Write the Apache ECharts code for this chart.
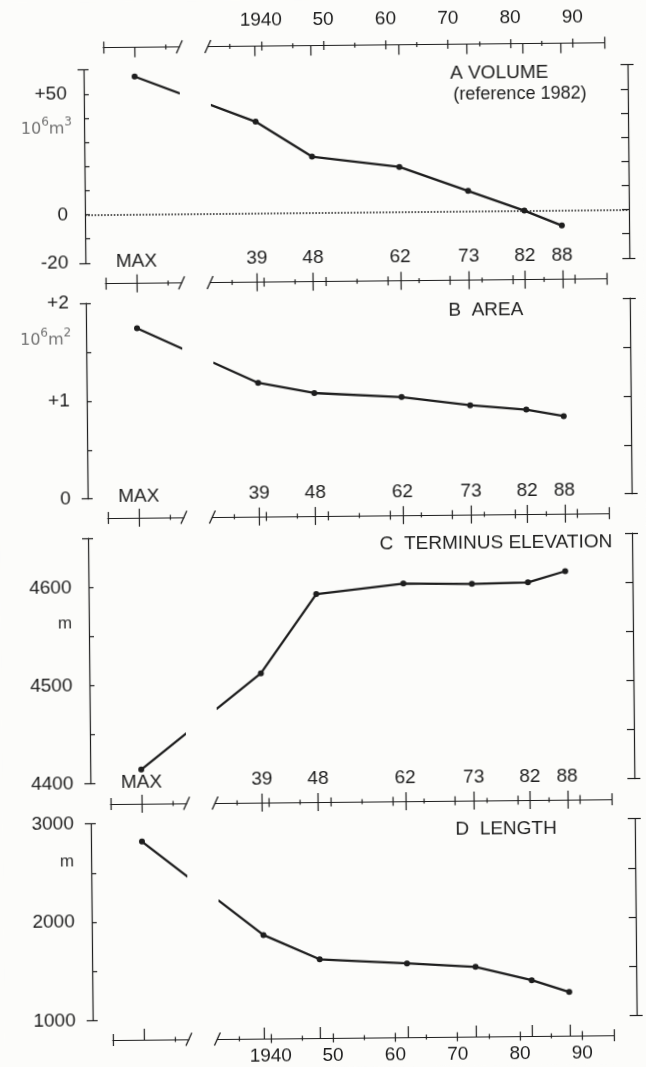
<!DOCTYPE html>
<html>
<head>
<meta charset="utf-8">
<script src="https://cdn.jsdelivr.net/npm/echarts@6/dist/echarts.min.js"></script>
<style>
html,body{margin:0;padding:0;background:#fcfcfa;overflow:hidden;}
#c{width:646px;height:1067px;transform:rotate(-0.55deg);transform-origin:323px 533px;}
</style>
</head>
<body>
<div id="c"></div>
<script>
// ---------------- data ----------------
const years = [1939, 1948, 1962, 1973, 1982, 1988];
const volume = [37.9, 23.2, 18.6, 8.4, 0.0, -6.3];        // 10^6 m3, reference 1982
const area = [1.17, 1.06, 1.01, 0.92, 0.87, 0.80];        // 10^6 m2
const elevation = [4511, 4591, 4601, 4600, 4601, 4612];   // m
const lengthM = [1853, 1600, 1550, 1508, 1367, 1244];     // m
const maxValues = [57.1, 1.74, 4414, 2815];               // values at "MAX"
const maxLabel = 'MAX';
const decadeTicks = [1940, 1950, 1960, 1970, 1980, 1990];
const halfDecadeTicks = [1935, 1945, 1955, 1965, 1975, 1985];
const panelTitles = ['A VOLUME', 'B  AREA', 'C  TERMINUS ELEVATION', 'D  LENGTH'];
const subTitle = '(reference 1982)';
const yRanges = [[-20, 60, 10], [0, 2, 0.5], [4400, 4650, 50], [1000, 3000, 500]];
const yTickLabels = [[-20, 0, 50], [0, 1, 2], [4400, 4500, 4600], [1000, 2000, 3000]];
const unitLabels = ['{a|10}{s|6}{a|m}{s|3}', '{a|10}{s|6}{a|m}{s|2}', '{m|m}', '{m|m}'];
const seriesValues = [volume, area, elevation, lengthM];

// ---------------- layout (pixels) ----------------
const INK = '#1e1e1e';
const FONT = '"Liberation Sans", Arial, Helvetica, sans-serif';
const UNIT_FONT = '"DejaVu Sans", "Liberation Sans", sans-serif';
const LS = {color: INK, width: 1.2};
const X1940 = 265.8, PX_PER_YR = 6.23;           // broken time axis scale
const yrAt = px => 1940 + (px - X1940) / PX_PER_YR;
const MAX_AT = yrAt(139);                        // where the MAX column sits
const SEG_L = [108, 184], SEG_R = [212.5, 609.2];
const GAP = [yrAt(184), yrAt(215.4)];
const PLOT_L = 88, PLOT_R = 632;
const ROWS_Y = [45.5, 281.6, 515.9, 802, 1038];
const panelLayout = [
  {top: 67.7, bottom: 260.9, title: [454.5, 74.5], sub: [457.6, 96.4], unit: [76, 124], unitAlign: 'right'},
  {top: 301, bottom: 496.7, title: [450.4, 311.5], unit: [73.2, 335], unitAlign: 'right'},
  {top: 536.2, bottom: 781.6, title: [379.6, 545.1], unit: [64, 621.3], unitAlign: 'center'},
  {top: 821.6, bottom: 1018.3, title: [452.6, 831.2], unit: [63.9, 859.6], unitAlign: 'center'}
];

const grids = [], xAxes = [], yAxes = [], series = [], graphics = [];
const addGrid = g => { grids.push(Object.assign({outerBoundsMode: 'none', containLabel: false}, g)); return grids.length - 1; };
const fmtSigned = v => (v > 0 ? '+' + v : String(v));
const fmtPlain = v => String(v);
const fmtDecade = v => (v === 1940 ? '1940' : String(v).slice(2));
const fmtObs = v => String(v).slice(2);
const labelStyle = {color: INK, fontSize: 19, fontFamily: FONT};

function tickLayer(gridIndex, min, max, position, values, length, inside) {
  return {type: 'value', gridIndex, min, max, position, silent: true,
    axisLine: {show: false, onZero: false},
    axisTick: {show: true, customValues: values, length, inside, lineStyle: LS},
    axisLabel: {show: false}, splitLine: {show: false}, splitArea: {show: false}};
}

// ---------------- panels ----------------
panelLayout.forEach((L, k) => {
  const gi = addGrid({left: PLOT_L, width: PLOT_R - PLOT_L, top: L.top, height: L.bottom - L.top});
  const xi = xAxes.length;
  xAxes.push({type: 'value', gridIndex: gi, min: yrAt(PLOT_L), max: yrAt(PLOT_R), show: false,
    axisLine: {show: false, onZero: false}, splitLine: {show: false}});
  const [mn, mx, iv] = yRanges[k];
  const yb = {type: 'value', gridIndex: gi, min: mn, max: mx, splitLine: {show: false}, splitArea: {show: false}, silent: true};
  const yi = yAxes.length;
  yAxes.push(Object.assign({}, yb, {position: 'left', interval: iv,
    axisLine: {show: true, onZero: false, lineStyle: LS},
    axisTick: {show: true, inside: true, length: 5, lineStyle: LS},
    axisLabel: Object.assign({show: true, customValues: yTickLabels[k], formatter: k < 2 ? fmtSigned : fmtPlain, margin: 17}, labelStyle)}));
  yAxes.push(Object.assign({}, yb, {position: 'left',
    axisLine: {show: false, onZero: false},
    axisTick: {show: true, customValues: [mn, mx], inside: false, length: 6, lineStyle: LS},
    axisLabel: {show: false}}));
  yAxes.push(Object.assign({}, yb, {position: 'right', interval: iv,
    axisLine: {show: true, onZero: false, lineStyle: LS},
    axisTick: {show: true, inside: true, length: 7, lineStyle: LS},
    axisLabel: {show: false}}));
  yAxes.push(Object.assign({}, yb, {position: 'right',
    axisLine: {show: false, onZero: false},
    axisTick: {show: true, customValues: [mn, mx], inside: false, length: 6, lineStyle: LS},
    axisLabel: {show: false}}));

  const s = {type: 'line', name: panelTitles[k], xAxisIndex: xi, yAxisIndex: yi,
    data: [[MAX_AT, maxValues[k]]].concat(years.map((y, i) => [y, seriesValues[k][i]])),
    symbol: 'circle', symbolSize: 6, showSymbol: true, silent: true, z: 3,
    lineStyle: {width: 2.3}, itemStyle: {borderWidth: 0}, emphasis: {disabled: true}};
  if (k === 0) {
    s.markLine = {silent: true, symbol: ['none', 'none'], label: {show: false},
      lineStyle: {type: [1.6, 1.6], color: INK, width: 1.5}, data: [{yAxis: 0}]};
  }
  series.push(s);

  graphics.push({type: 'text', x: L.title[0], y: L.title[1], silent: true,
    style: {text: panelTitles[k], fill: INK, fontSize: 19, fontFamily: FONT, align: 'left', verticalAlign: 'middle'}});
  if (L.sub) graphics.push({type: 'text', x: L.sub[0], y: L.sub[1], silent: true,
    style: {text: subTitle, fill: INK, fontSize: 18, fontFamily: FONT, align: 'left', verticalAlign: 'middle'}});
  graphics.push({type: 'text', x: L.unit[0], y: L.unit[1], silent: true,
    style: {text: unitLabels[k], align: L.unitAlign, verticalAlign: 'middle',
      rich: {
        a: {fontSize: 16, fontFamily: UNIT_FONT, fill: '#727272', lineHeight: 21, verticalAlign: 'bottom'},
        s: {fontSize: 12, fontFamily: UNIT_FONT, fill: '#727272', lineHeight: 21, verticalAlign: 'top'},
        m: {fontSize: 17, fontFamily: FONT, fill: '#333'}
      }}});
});

// ---------------- broken horizontal time axes ----------------
ROWS_Y.forEach((y, r) => {
  const bottomRow = r === ROWS_Y.length - 1;
  const dateRow = r === 0 || bottomRow;
  const pos = bottomRow ? 'bottom' : 'top';
  const gtop = bottomRow ? y - 1 : y;
  const gL = addGrid({left: SEG_L[0], width: SEG_L[1] - SEG_L[0], top: gtop, height: 1});
  const gR = addGrid({left: SEG_R[0], width: SEG_R[1] - SEG_R[0], top: gtop, height: 1});
  [gL, gR].forEach(g => yAxes.push({type: 'value', gridIndex: g, show: false, min: 0, max: 1, splitLine: {show: false}}));
  const minL = yrAt(SEG_L[0]), maxL = yrAt(SEG_L[1]), minR = yrAt(SEG_R[0]), maxR = yrAt(SEG_R[1]);
  const obsIn = bottomRow ? 11 : (r === 0 ? 10 : 9);

  // right (years) segment
  xAxes.push({type: 'value', gridIndex: gR, min: minR, max: maxR, position: pos, silent: true,
    axisLine: {show: true, onZero: false, lineStyle: LS},
    axisTick: {show: true, customValues: decadeTicks, inside: false, length: 4.5, lineStyle: LS},
    axisLabel: Object.assign({show: true, customValues: dateRow ? decadeTicks : years,
      formatter: dateRow ? fmtDecade : fmtObs, margin: r === 0 ? 16 : (bottomRow ? 8.5 : 14)}, labelStyle),
    splitLine: {show: false}});
  xAxes.push(tickLayer(gR, minR, maxR, pos, decadeTicks, 4.5, true));
  xAxes.push(tickLayer(gR, minR, maxR, pos, halfDecadeTicks, 2.5, false));
  xAxes.push(tickLayer(gR, minR, maxR, pos, halfDecadeTicks, 2.5, true));
  xAxes.push(tickLayer(gR, minR, maxR, pos, [maxR], 6, false));
  xAxes.push(tickLayer(gR, minR, maxR, pos, [maxR], 6, true));
  xAxes.push(tickLayer(gR, minR, maxR, pos, years, obsIn, true));
  if (!dateRow) xAxes.push(tickLayer(gR, minR, maxR, pos, years, 9, false));

  // left (MAX) segment
  xAxes.push({type: 'value', gridIndex: gL, min: minL, max: maxL, position: pos, silent: true,
    axisLine: {show: true, onZero: false, lineStyle: LS},
    axisTick: {show: true, customValues: [minL], inside: false, length: 6, lineStyle: LS},
    axisLabel: dateRow ? {show: false} :
      Object.assign({show: true, customValues: [MAX_AT], formatter: () => maxLabel, margin: 12}, labelStyle),
    splitLine: {show: false}});
  xAxes.push(tickLayer(gL, minL, maxL, pos, [minL], 6, true));
  xAxes.push(tickLayer(gL, minL, maxL, pos, [MAX_AT + 5], 2.5, false));
  xAxes.push(tickLayer(gL, minL, maxL, pos, [MAX_AT + 5], 2.5, true));
  xAxes.push(tickLayer(gL, minL, maxL, pos, [MAX_AT], obsIn, true));
  if (!dateRow) xAxes.push(tickLayer(gL, minL, maxL, pos, [MAX_AT], 9, false));

  // break marks
  [SEG_L[1], SEG_R[0]].forEach(x => graphics.push({type: 'line', silent: true,
    shape: {x1: x - 3, y1: y + 6.5, x2: x + 3, y2: y - 6.5}, style: {stroke: INK, lineWidth: 1.3}}));
});

const chart = echarts.init(document.getElementById('c'), null, {renderer: 'canvas'});
chart.setOption({
  animation: false,
  backgroundColor: '#fcfcfa',
  textStyle: {fontFamily: FONT},
  grid: grids,
  xAxis: xAxes,
  yAxis: yAxes,
  visualMap: {type: 'piecewise', show: false, dimension: 0, seriesIndex: [0, 1, 2, 3],
    pieces: [{gt: GAP[0], lt: GAP[1], color: 'rgba(0,0,0,0)'}],
    outOfRange: {color: INK}},
  series: series,
  graphic: {elements: graphics}
});
</script>
</body>
</html>
